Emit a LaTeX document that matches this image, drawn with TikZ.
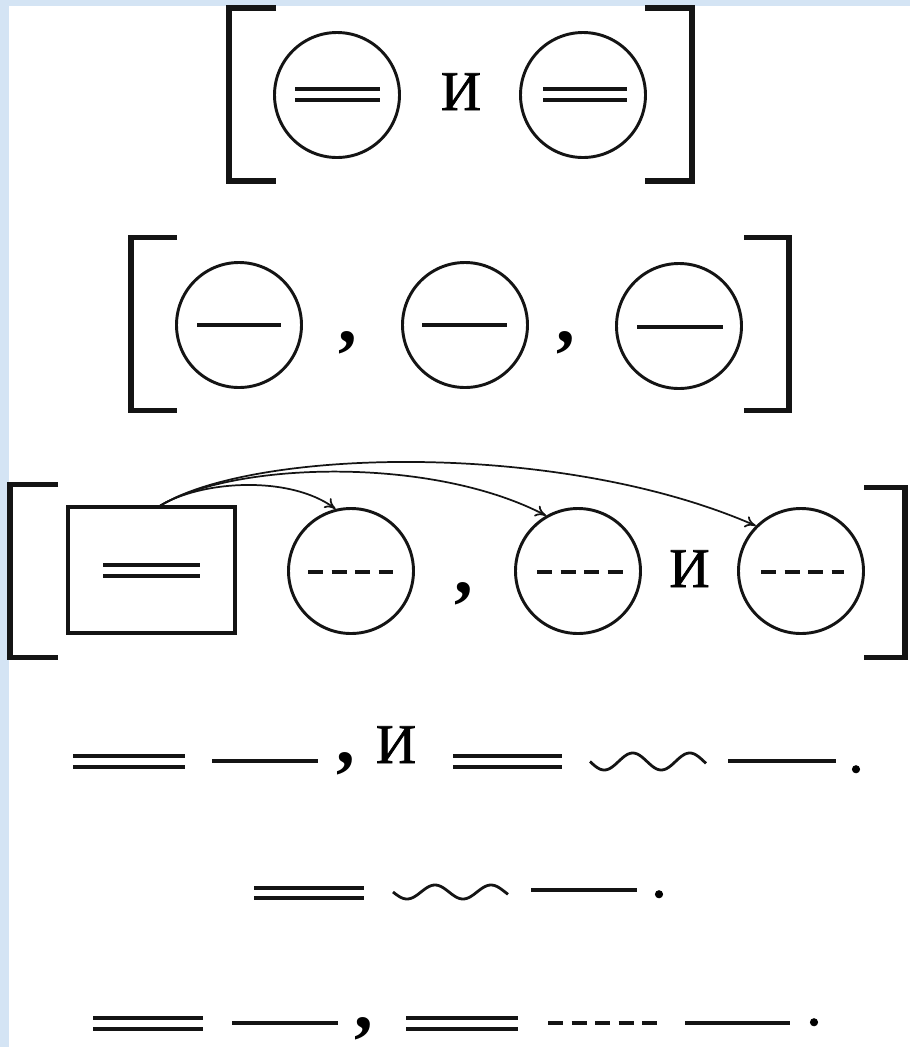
\documentclass[tikz,border=0pt]{standalone}
\usepackage{fontspec}
\setmainfont{Liberation Serif}
\newfontfamily\heavyserif[FakeBold=1.3]{Liberation Serif}
\usetikzlibrary{arrows.meta}
\definecolor{edgeblue}{RGB}{212,228,244}
\begin{document}
\begin{tikzpicture}[x=0.75pt,y=-0.75pt,
  ink/.style={draw=black!92},
  brk/.style={ink,line width=4.1pt,line join=miter},
  ring/.style={circle,ink,line width=2.2pt,minimum size=93.75pt,inner sep=0pt},
  frame/.style={rectangle,ink,line width=2.5pt,minimum width=125.25pt,minimum height=94.5pt,inner sep=0pt},
  sline/.style={ink,line width=3.2pt},
  dline/.style={ink,line width=2.9pt},
  dsh/.style={ink,line width=3.1pt,dash pattern=on 11.25pt off 6.4pt},
  wav/.style={ink,line width=2.1pt},
  arr/.style={ink,line width=1.3pt,-{To[length=8pt,width=9pt]}},
  txt/.style={anchor=base,inner sep=0pt,font=\heavyserif\fontsize{42}{50}\selectfont},
  cma/.style={anchor=base,inner sep=0pt,font=\bfseries\fontsize{56}{60}\selectfont},
  dot/.style={anchor=base,inner sep=0pt,font=\heavyserif\fontsize{46}{50}\selectfont},
]
\useasboundingbox (0,0) rectangle (910,1047);
\fill[white] (0,0) rectangle (910,1047);
\fill[edgeblue] (0,0) rectangle (8.5,1047);
\fill[edgeblue] (0,0) rectangle (910,5.5);

% ---------- row 1
\draw[brk] (276,8) -- (229,8) -- (229,181) -- (276,181);
\draw[brk] (645,8) -- (692,8) -- (692,181) -- (645,181);
\node[ring] (a1) at (337,95) {};
\node[ring] (a2) at (583,95) {};
\draw[dline] (295,89) -- (380,89) (295,100) -- (380,100);
\draw[dline] (543,89) -- (627,89) (543,100) -- (627,100);
\node[txt] (ai) at (461,110) {И};

% ---------- row 2
\draw[brk] (177,237.5) -- (131,237.5) -- (131,410.5) -- (177,410.5);
\draw[brk] (744,237.5) -- (789,237.5) -- (789,410.5) -- (744,410.5);
\node[ring] (b1) at (239,325) {};
\node[ring] (b2) at (465,325) {};
\node[ring] (b3) at (679,326) {};
\draw[sline] (197,325) -- (281,325);
\draw[sline] (422,325) -- (507,325);
\draw[sline] (637,327) -- (723,327);
\node[cma] (bc1) at (348,342) {,};
\node[cma] (bc2) at (566,342) {,};

% ---------- row 3
\draw[brk] (58,484.5) -- (10,484.5) -- (10,657.5) -- (58,657.5);
\draw[brk] (864,487.5) -- (905,487.5) -- (905,657.5) -- (864,657.5);
\node[frame] (box) at (151.5,570) {};
\draw[dline] (103,565) -- (200,565) (103,576) -- (200,576);
\node[ring] (c1) at (351,571) {};
\node[ring] (c2) at (578,571) {};
\node[ring] (c3) at (801,571) {};
\draw[dsh] (308,572) -- (393,572);
\draw[dsh] (537,572) -- (624,572);
\draw[dsh] (761,572) -- (844,572);
\node[cma] (cc) at (464,593) {,};
\node[txt] (ci) at (689.5,587) {И};
\coordinate (s) at (158,507);
\draw[arr] (s) .. controls (200,480) and (290,475) .. (c1.104);
\draw[arr] (s) .. controls (230,462) and (430,455) .. (c2.120);
\draw[arr] (s) .. controls (250,448) and (560,440) .. (c3.135);

% ---------- row 4
\draw[dline] (73,756) -- (185,756) (73,767) -- (185,767);
\draw[sline] (212,761) -- (318,761);
\node[cma] (dc) at (346,763) {,};
\node[txt] (di) at (396,763) {И};
\draw[dline] (453,756) -- (562,756) (453,767) -- (562,767);
\draw[wav,domain=0:116,samples=80,smooth] plot ({590+\x},{761.5+8.5*sin(\x*6.31579)});
\draw[sline] (728,761) -- (836,761);
\node[dot] (dp) at (856,772) {.};

% ---------- row 5
\draw[dline] (254,888) -- (364,888) (254,898) -- (364,898);
\draw[wav,domain=0:115,samples=80,smooth] plot ({393+\x},{892+7*sin(\x*6.42857)});
\draw[sline] (531,890) -- (637,890);
\node[dot] (ep) at (659,897) {.};

% ---------- row 6
\draw[dline] (93,1018) -- (203,1018) (93,1029) -- (203,1029);
\draw[sline] (232,1023) -- (338,1023);
\node[cma] (fc) at (364,1028) {,};
\draw[dline] (406,1018) -- (518,1018) (406,1029) -- (518,1029);
\draw[dsh] (548,1023) -- (657,1023);
\draw[sline] (685,1023) -- (790,1023);
\node[dot] (fp) at (814,1025) {.};
\end{tikzpicture}
\end{document}
